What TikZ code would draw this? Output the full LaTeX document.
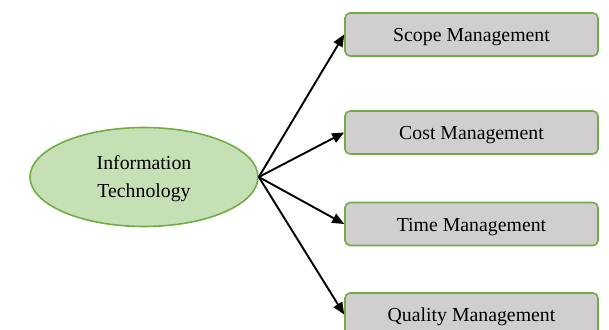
\documentclass[tikz,border=0pt]{standalone}
\usepackage{fontspec}
\setmainfont{Liberation Serif}
\usetikzlibrary{shapes.geometric,arrows.meta}
\definecolor{itgreen}{HTML}{C5E0B4}
\definecolor{edgegreen}{HTML}{70AD47}
\definecolor{boxgray}{HTML}{D0CECE}
\tikzset{
  itnode/.style={ellipse, draw=edgegreen, fill=itgreen, line width=1.6pt,
    minimum width=228pt, minimum height=99pt, inner sep=0pt, align=center,
    text depth=0pt, font=\fontsize{19.8}{28}\selectfont},
  mgmtbox/.style={rectangle, rounded corners=5pt, draw=edgegreen, fill=boxgray,
    line width=1.6pt, minimum width=253pt, minimum height=43pt, inner sep=0pt,
    text height=14pt, text depth=0pt, font=\fontsize{19.8}{24}\selectfont},
  conn/.style={line width=1.9pt, -{Triangle[length=12pt,width=10pt]}}
}
\begin{document}
\begin{tikzpicture}[x=1pt,y=-1pt]
\useasboundingbox (0,0) rectangle (609,329);
\clip (0,0) rectangle (609,329);
\fill[white] (0,0) rectangle (609,329);
\node[itnode] (it) at (144,177) {Information\\Technology};
\node[mgmtbox] (scope) at (471.5,34.5) {Scope Management};
\node[mgmtbox] (cost) at (471.5,132.5) {Cost Management};
\node[mgmtbox] (time) at (471.5,224) {Time Management};
\node[mgmtbox] (quality) at (471.5,314.5) {Quality Management};
\draw[conn] (it.east) -- (scope.west);
\draw[conn] (it.east) -- (cost.west);
\draw[conn] (it.east) -- (time.west);
\draw[conn] (it.east) -- (quality.west);
\end{tikzpicture}
\end{document}
